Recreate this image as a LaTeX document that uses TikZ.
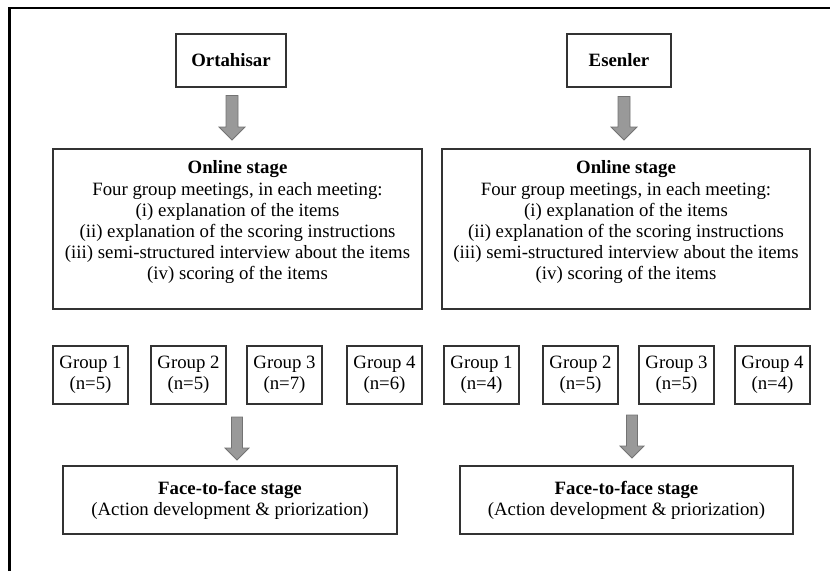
\documentclass[tikz,border=0pt]{standalone}
\usepackage{fontspec}
\setmainfont{Liberation Serif}
\begin{document}
\begin{tikzpicture}[x=1pt,y=-1pt,
  txt/.style={font=\fontsize{18.8}{21.2}\selectfont, align=center, inner sep=0pt},
  box/.style={draw=black!80, line width=1.1pt, inner sep=0pt, txt},
  blk/.style={draw=black!55, fill=black!40, line width=0.8pt, line join=miter},
  frame/.style={draw=black, line width=2.3pt}]
\useasboundingbox (0,0) rectangle (830,571);
\coordinate (fa) at (9.5,571);
\coordinate (fb) at (830,8.3);
\draw[frame] (fa) |- (fb);

% district boxes
\node[box, minimum width=110pt, minimum height=53pt] (ort) at (231,60.5) {\textbf{Ortahisar}};
\node[box, minimum width=104pt, minimum height=53pt] (ese) at (619,60.5) {\textbf{Esenler}};

% online stage boxes
\node[box, minimum width=369pt, minimum height=160pt] (onL) at (237.5,229) {};
\node[txt] (onLt) at (237.5,222.5) {\textbf{Online stage}\\Four group meetings, in each meeting:\\(i) explanation of the items\\(ii) explanation of the scoring instructions\\(iii) semi-structured interview about the items\\(iv) scoring of the items};
\node[box, minimum width=368pt, minimum height=160pt] (onR) at (626,229) {};
\node[txt] (onRt) at (626,222.5) {\textbf{Online stage}\\Four group meetings, in each meeting:\\(i) explanation of the items\\(ii) explanation of the scoring instructions\\(iii) semi-structured interview about the items\\(iv) scoring of the items};

% groups
\tikzset{grp/.style={box, minimum width=75pt, minimum height=58pt}}
\node[grp] (gL1) at (90.5,375) {Group 1\\(n=5)};
\node[grp] (gL2) at (188.5,375) {Group 2\\(n=5)};
\node[grp] (gL3) at (284.5,375) {Group 3\\(n=7)};
\node[grp] (gL4) at (384.5,375) {Group 4\\(n=6)};
\node[grp] (gR1) at (481.5,375) {Group 1\\(n=4)};
\node[grp] (gR2) at (580.5,375) {Group 2\\(n=5)};
\node[grp] (gR3) at (676.5,375) {Group 3\\(n=5)};
\node[grp] (gR4) at (772.5,375) {Group 4\\(n=4)};

% face-to-face boxes
\node[box, minimum width=334pt, minimum height=68pt] (ffL) at (230,500) {\textbf{Face-to-face stage}\\(Action development \& priorization)};
\node[box, minimum width=333pt, minimum height=68pt] (ffR) at (626.5,500) {\textbf{Face-to-face stage}\\(Action development \& priorization)};

% block arrows (top point of shaft)
\coordinate (t1) at (232,95.5);
\coordinate (t2) at (624,96.5);
\coordinate (t3) at (237,417);
\coordinate (t4) at (632,415);
\draw[blk] (t1) ++(-6,0) -- ++(12,0) -- ++(0,31.5) -- ++(7,0) -- ++(-13,13) -- ++(-13,-13) -- ++(7,0) -- cycle;
\draw[blk] (t2) ++(-6,0) -- ++(12,0) -- ++(0,30.5) -- ++(7,0) -- ++(-13,13) -- ++(-13,-13) -- ++(7,0) -- cycle;
\draw[blk] (t3) ++(-5.5,0) -- ++(11,0) -- ++(0,31) -- ++(6.5,0) -- ++(-12,12) -- ++(-12,-12) -- ++(6.5,0) -- cycle;
\draw[blk] (t4) ++(-5.5,0) -- ++(11,0) -- ++(0,31) -- ++(6.5,0) -- ++(-12,12) -- ++(-12,-12) -- ++(6.5,0) -- cycle;
\end{tikzpicture}
\end{document}
